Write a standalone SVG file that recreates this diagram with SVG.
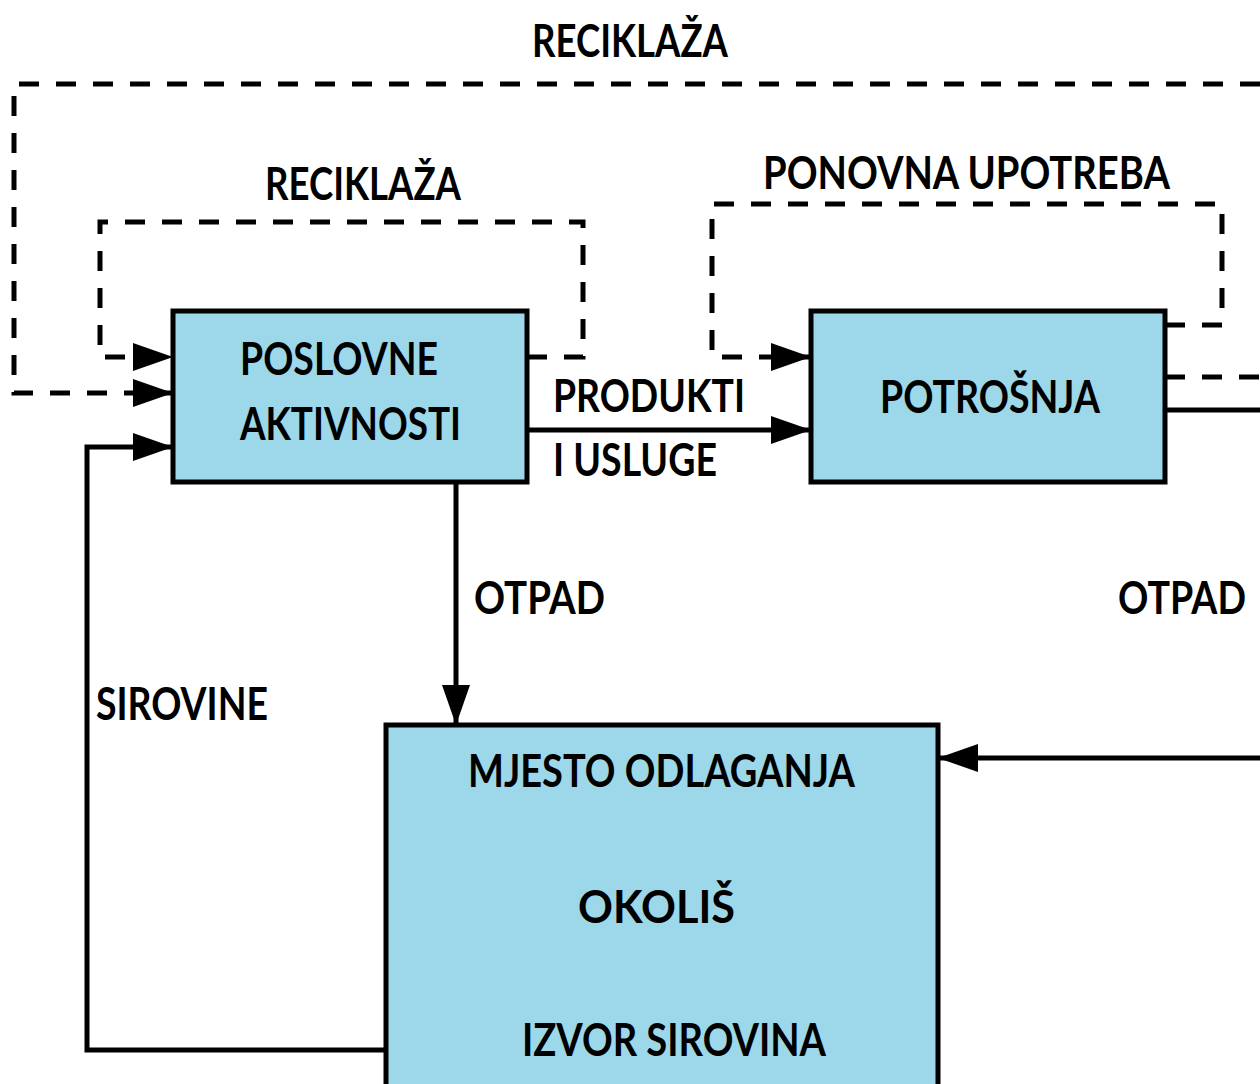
<svg xmlns="http://www.w3.org/2000/svg" width="1260" height="1084" viewBox="0 0 1260 1084">
<style>
.box{fill:#9cd8e9;stroke:#000;stroke-width:5}
.ln{fill:none;stroke:#000;stroke-width:5}
.dash{stroke-dasharray:20 17}
text{font-family:Lato,"Liberation Sans",sans-serif;font-weight:bold;font-size:45px;fill:#000}
</style>
<defs>
<marker id="ah" markerUnits="userSpaceOnUse" viewBox="0 0 40 28" refX="40" refY="14" markerWidth="40" markerHeight="28" orient="auto">
<path d="M0,0 L40,14 L0,28 z" fill="#000"/>
</marker>
</defs>
<rect width="1260" height="1084" fill="#fff"/>
<g id="connectors">
<path class="ln dash" d="M1260,84 H14 V393 H173" marker-end="url(#ah)"/>
<path class="ln dash" d="M1165,377 H1260"/>
<path class="ln dash" d="M527,357 H583 V222 H100 V357 H173" marker-end="url(#ah)"/>
<path class="ln dash" d="M1165,325 H1222 V204 H712 V357 H811" marker-end="url(#ah)"/>
<path class="ln" d="M527,430 H811" marker-end="url(#ah)"/>
<path class="ln" d="M456,482 V725" marker-end="url(#ah)"/>
<path class="ln" d="M386,1050 H87 V447 H173" marker-end="url(#ah)"/>
<path class="ln" d="M1165,410 H1260"/>
<path class="ln" d="M1260,758 H938" marker-end="url(#ah)"/>
</g>
<g id="labels">
<text x="532" y="57" textLength="196" lengthAdjust="spacingAndGlyphs">RECIKLAŽA</text>
<text x="265" y="200" textLength="196" lengthAdjust="spacingAndGlyphs">RECIKLAŽA</text>
<text x="763" y="189" textLength="407" lengthAdjust="spacingAndGlyphs">PONOVNA UPOTREBA</text>
<text x="553" y="412" textLength="192" lengthAdjust="spacingAndGlyphs">PRODUKTI</text>
<text x="553" y="476" textLength="164" lengthAdjust="spacingAndGlyphs">I USLUGE</text>
<text x="474" y="614" textLength="131" lengthAdjust="spacingAndGlyphs">OTPAD</text>
<text x="1118" y="614" font-size="42" textLength="128" lengthAdjust="spacingAndGlyphs">OTPAD</text>
<text x="96" y="720" textLength="172" lengthAdjust="spacingAndGlyphs">SIROVINE</text>
</g>
<g id="poslovne">
<rect class="box" x="173" y="311" width="354" height="171"/>
<text x="240" y="375" textLength="198" lengthAdjust="spacingAndGlyphs">POSLOVNE</text>
<text x="240" y="440" textLength="221" lengthAdjust="spacingAndGlyphs">AKTIVNOSTI</text>
</g>
<g id="potrosnja">
<rect class="box" x="811" y="311" width="354" height="171"/>
<text x="880" y="413" textLength="220" lengthAdjust="spacingAndGlyphs">POTROŠNJA</text>
</g>
<g id="okolis">
<rect class="box" x="386" y="725" width="552" height="365"/>
<text x="468" y="787" textLength="387" lengthAdjust="spacingAndGlyphs">MJESTO ODLAGANJA</text>
<text x="578" y="923" font-size="50" textLength="157" lengthAdjust="spacingAndGlyphs">OKOLIŠ</text>
<text x="522" y="1056" textLength="304" lengthAdjust="spacingAndGlyphs">IZVOR SIROVINA</text>
</g>
</svg>
